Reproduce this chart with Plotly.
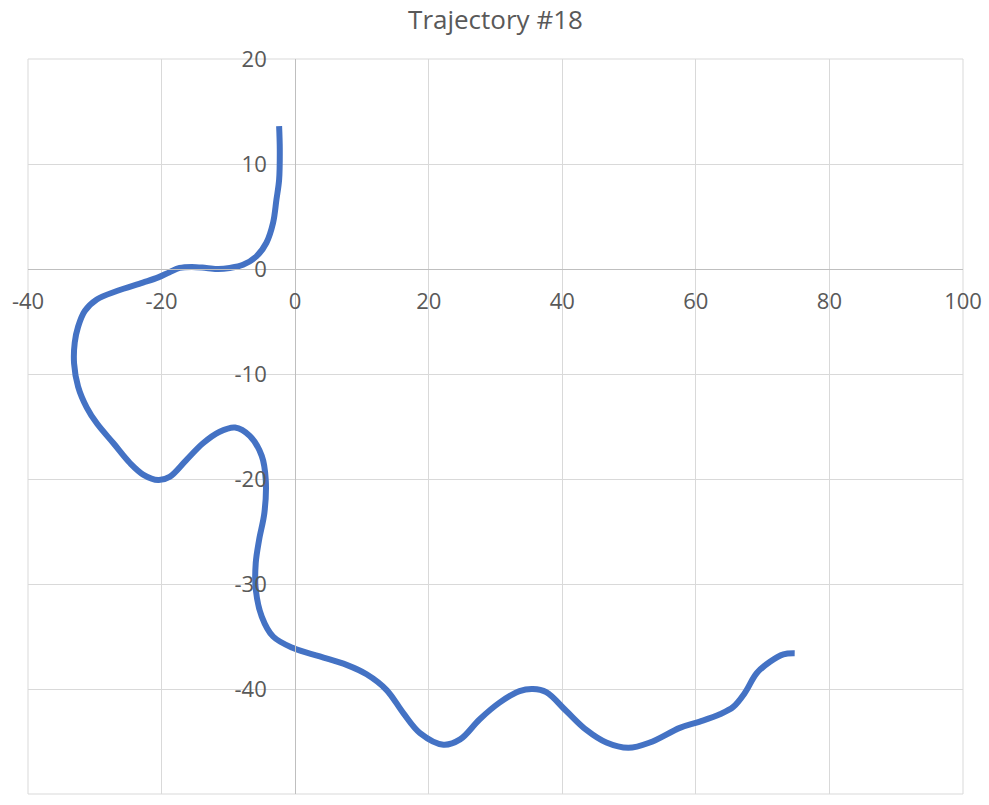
import plotly.graph_objects as go

# Trajectory #18 points
x_vals = [-2.4, -2.3, -2.4, -2.8, -3.3, -4.3, -5.8, -7.8, -9.8, -11.5, -13.3, -15.5,
          -17.3, -18.8, -20.5, -22.8, -26.7, -29.7, -31.5, -32.5, -33.0, -33.1, -32.5,
          -31.2, -29.7, -27.2, -24.7, -22.7, -20.5, -18.8, -16.3, -13.8, -11.3, -9.0,
          -6.8, -5.0, -4.4, -4.6, -5.4, -5.9, -5.9, -5.0, -3.3, -0.3, 3.7, 7.7, 10.7,
          13.7, 16.2, 18.7, 22.2, 24.7, 27.6, 30.6, 33.6, 35.6, 37.6, 40.6, 43.6, 46.6,
          49.9, 53.1, 57.6, 60.6, 63.6, 65.6, 67.3, 69.1, 71.1, 73.1, 74.8]
y_vals = [13.6, 11.4, 8.5, 6.6, 4.4, 2.5, 1.2, 0.4, 0.1, 0.0, 0.1, 0.2,
          0.1, -0.3, -0.8, -1.3, -2.1, -2.9, -4.0, -5.5, -7.0, -9.0, -11.2,
          -13.2, -14.7, -16.6, -18.5, -19.6, -20.1, -19.8, -18.2, -16.6, -15.5, -15.1,
          -15.9, -17.8, -20.1, -23.2, -25.8, -28.0, -30.5, -33.1, -35.0, -36.1, -36.9,
          -37.7, -38.6, -40.1, -42.3, -44.2, -45.3, -44.8, -42.9, -41.3, -40.2, -40.0,
          -40.3, -42.1, -43.9, -45.1, -45.6, -45.1, -43.7, -43.1, -42.4, -41.7, -40.4,
          -38.5, -37.4, -36.7, -36.6]

x_ticks = [-40, -20, 0, 20, 40, 60, 80, 100]
x_tick_labels = ["-40", "-20", "0", "20", "40", "60", "80", "100"]
y_ticks = [-50, -40, -30, -20, -10, 0, 10, 20]
y_tick_labels = ["-50", "-40", "-30", "-20", "-10", "0", "10", "20"]
title_text = "Trajectory #18"

FONT = "Open Sans, Noto Sans, sans-serif"
GRAY = "#595959"
GRID = "#D9D9D9"
AXIS = "#BFBFBF"

fig = go.Figure()
fig.add_trace(go.Scatter(
    x=x_vals, y=y_vals, mode="lines",
    line=dict(color="#4472C4", width=6, shape="spline", smoothing=1.0),
    showlegend=False, hoverinfo="skip",
))

x0_frac = (0 - (-40)) / (100 - (-40))
y0_frac = (0 - (-50)) / (20 - (-50))

fig.update_layout(
    width=989, height=805,
    paper_bgcolor="white", plot_bgcolor="white",
    margin=dict(l=28, r=26, t=59, b=11, autoexpand=False),
    title=dict(text=title_text, x=0.5, xref="paper", xanchor="center",
               y=1 - 20 / 805, yref="container", yanchor="middle",
               font=dict(family=FONT, size=26, color=GRAY)),
    font=dict(family=FONT, color=GRAY),
    xaxis=dict(range=[-40, 100], tickvals=x_ticks, ticktext=x_tick_labels,
               showgrid=True, gridcolor=GRID,
               gridwidth=1, zeroline=False, showline=True, linecolor=AXIS, linewidth=1,
               anchor="free", position=y0_frac, ticks="", automargin=False,
               tickfont=dict(family=FONT, size=22, color=GRAY), ticklabelstandoff=13),
    yaxis=dict(range=[-50, 20], tickvals=y_ticks, ticktext=y_tick_labels,
               showgrid=True, gridcolor=GRID,
               gridwidth=1, zeroline=False, showline=True, linecolor=AXIS, linewidth=1,
               anchor="free", position=x0_frac, ticks="", automargin=False,
               tickfont=dict(family=FONT, size=22, color=GRAY), ticklabelstandoff=24),
    shapes=[
        dict(type="rect", xref="paper", yref="paper", x0=0, x1=1, y0=0, y1=1,
             line=dict(color=GRID, width=1), fillcolor="rgba(0,0,0,0)", layer="below"),
    ],
)

fig.write_html("out.html",
               config={"displayModeBar": False},
               post_script="document.body.style.margin='0';document.body.style.overflow='hidden';")
